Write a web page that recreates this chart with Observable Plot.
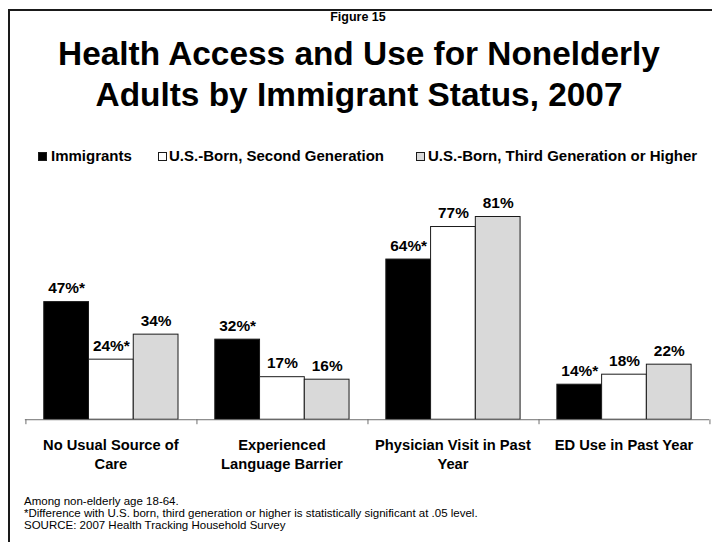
<!DOCTYPE html>
<html>
<head>
<meta charset="utf-8">
<script src="https://cdn.jsdelivr.net/npm/d3@7"></script>
<script src="https://cdn.jsdelivr.net/npm/@observablehq/plot@0.6"></script>
<style>
  body { margin: 0; background: #fff; }
  #page { position: relative; width: 712px; height: 542px; overflow: hidden; background: #fff;
          font-family: "Liberation Sans", Arial, Helvetica, sans-serif; color: #000; }
  #frame { position: absolute; left: 8px; top: 9px; width: 800px; height: 600px;
           border-left: 2px solid #1a1a1a; border-top: 2px solid #1a1a1a; }
  .t { position: absolute; white-space: nowrap; }
  #fig { left: 0; width: 716px; text-align: center; top: 10.5px; font-size: 12.5px; line-height: 12.5px; font-weight: bold; }
  #title { left: 0; width: 718px; text-align: center; top: 32.7px; font-size: 33.4px; line-height: 41px; font-weight: bold; }
  .leg { position: absolute; top: 148px; font-size: 15px; line-height: 15px; font-weight: bold; white-space: nowrap; }
  .sw { position: absolute; top: 152px; width: 9px; height: 9px; box-sizing: border-box; border: 1px solid #1a1a1a; }
  #notes { left: 24px; top: 495px; font-size: 11.5px; line-height: 12px; }
  #chart { position: absolute; left: 0; top: 160px; }
</style>
</head>
<body>
<div id="page">
  <div id="frame"></div>
  <div class="t" id="fig">Figure 15</div>
  <div class="t" id="title">Health Access and Use for Nonelderly<br>Adults by Immigrant Status, 2007</div>
  <div id="legend"></div>
  <div id="chart"></div>
  <div class="t" id="notes"></div>
</div>
<script>
// ---- data ----
const categories = [
  "No Usual Source of\nCare",
  "Experienced\nLanguage Barrier",
  "Physician Visit in Past\nYear",
  "ED Use in Past Year"
];
const series = ["Immigrants", "U.S.-Born, Second Generation", "U.S.-Born, Third Generation or Higher"];
const immigrants = [47, 32, 64, 14];
const secondGeneration = [24, 17, 77, 18];
const thirdGeneration = [34, 16, 81, 22];
const immigrantsSignificant = [true, true, true, true];
const secondGenerationSignificant = [true, false, false, false];
const thirdGenerationSignificant = [false, false, false, false];
const seriesColors = ["#000000", "#ffffff", "#d9d9d9"];
const notes = [
  "Among non-elderly age 18-64.",
  "*Difference with U.S. born, third generation or higher is statistically significant at .05 level.",
  "SOURCE: 2007 Health Tracking Household Survey"
];

// ---- table ----
const valuesBySeries = [immigrants, secondGeneration, thirdGeneration];
const sigBySeries = [immigrantsSignificant, secondGenerationSignificant, thirdGenerationSignificant];
const rows = [];
categories.forEach((c, ci) => {
  series.forEach((s, si) => {
    const v = valuesBySeries[si][ci];
    rows.push({category: c, series: s, value: v, label: v + "%" + (sigBySeries[si][ci] ? "*" : "")});
  });
});

// ---- legend ----
const legend = document.getElementById("legend");
const legendPos = [[38, 51], [158, 169], [416, 428]];
series.forEach((s, i) => {
  const sw = document.createElement("div");
  sw.className = "sw";
  sw.style.left = legendPos[i][0] + "px";
  sw.style.background = seriesColors[i];
  legend.appendChild(sw);
  const tx = document.createElement("div");
  tx.className = "leg";
  tx.style.left = legendPos[i][1] + "px";
  tx.textContent = s;
  legend.appendChild(tx);
});

// ---- notes ----
document.getElementById("notes").innerHTML = notes.join("<br>");

// ---- chart ----
const W = 716, ML = 24, MR = 2, padOuter = 0.404;
const facetW = (W - ML - MR) / categories.length;
const step = facetW / (series.length + 2 * padOuter);
const edgeOffset = padOuter * step + step / 2;

const chart = Plot.plot({
  width: W,
  height: 320,
  marginTop: 9,
  marginBottom: 59.3,
  marginLeft: ML,
  marginRight: MR,
  style: {fontFamily: '"Liberation Sans", Arial, sans-serif', background: "transparent", overflow: "visible", color: "#000"},
  fx: {domain: categories, padding: 0, axis: null, label: null},
  x: {domain: series, paddingInner: 0, paddingOuter: padOuter, axis: null, label: null},
  y: {domain: [0, 100], axis: null, label: null},
  color: {domain: series, range: seriesColors},
  marks: [
    Plot.barY(rows, {fx: "category", x: "series", y: "value", fill: "series", stroke: "#1a1a1a", strokeWidth: 1}),
    Plot.ruleY([0], {stroke: "#6e6e6e", strokeWidth: 1}),
    Plot.ruleX(categories, {fx: d => d, x: () => series[0], y1: 0, y2: 0, insetBottom: -5, dx: -edgeOffset, stroke: "#6e6e6e"}),
    Plot.ruleX(categories.slice(-1), {fx: d => d, x: () => series[series.length - 1], y1: 0, y2: 0, insetBottom: -5, dx: edgeOffset, stroke: "#6e6e6e"}),
    Plot.text(rows, {fx: "category", x: "series", y: "value", text: "label", dy: -9, lineAnchor: "bottom",
                     fontSize: 15.5, fontWeight: "bold", fill: "#000"}),
    Plot.text(categories, {fx: d => d, text: d => d, frameAnchor: "bottom", lineAnchor: "top", dy: 17.2,
                           lineHeight: 1.293, fontSize: 14.8, fontWeight: "bold", fill: "#000"})
  ]
});
document.getElementById("chart").appendChild(chart);
</script>
</body>
</html>
